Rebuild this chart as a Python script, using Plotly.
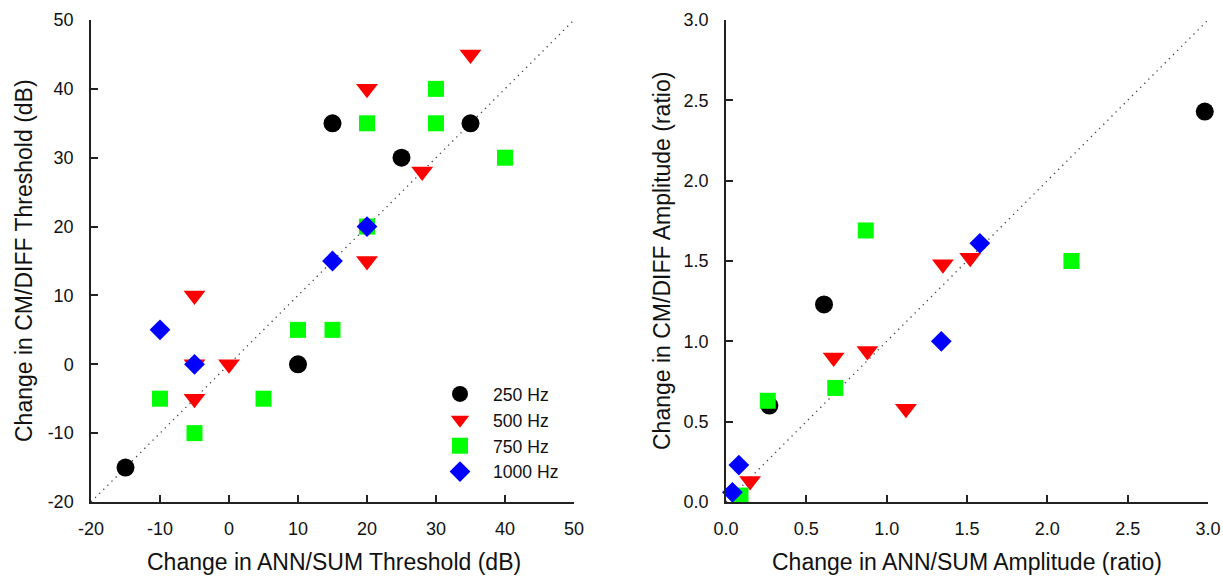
import plotly.graph_objects as go

# ---------------- data ----------------
series_names = ["250 Hz", "500 Hz", "750 Hz", "1000 Hz"]

# Left panel: thresholds (dB)
thr_250_x = [15, 35, 25, 10, -15]
thr_250_y = [35, 35, 30, 0, -15]
thr_500_x = [35, 20, 28, 20, -5, -5, 0, -5]
thr_500_y = [45, 40, 28, 15, 10, 0, 0, -5]
thr_750_x = [30, 20, 30, 40, 20, 10, 15, -10, 5, -5]
thr_750_y = [40, 35, 35, 30, 20, 5, 5, -5, -5, -10]
thr_1000_x = [20, 15, -10, -5]
thr_1000_y = [20, 15, 5, 0]

# Right panel: amplitudes (ratio)
amp_250_x = [2.98, 0.61, 0.27]
amp_250_y = [2.43, 1.23, 0.60]
amp_500_x = [1.35, 1.52, 0.67, 0.88, 1.12, 0.15]
amp_500_y = [1.48, 1.52, 0.90, 0.94, 0.58, 0.13]
amp_750_x = [0.87, 2.15, 0.68, 0.26, 0.09]
amp_750_y = [1.69, 1.50, 0.71, 0.63, 0.04]
amp_1000_x = [1.58, 1.34, 0.08, 0.04]
amp_1000_y = [1.61, 1.00, 0.23, 0.06]

thr_ticks = [-20, -10, 0, 10, 20, 30, 40, 50]
thr_ticktext = ["-20", "-10", "0", "10", "20", "30", "40", "50"]
amp_ticks = [0.0, 0.5, 1.0, 1.5, 2.0, 2.5, 3.0]
amp_ticktext = ["0.0", "0.5", "1.0", "1.5", "2.0", "2.5", "3.0"]
thr_identity = [-20, 50]
amp_identity = [0, 3]

# ---------------- styles ----------------
colors = ["#000000", "#FF0000", "#00FF00", "#0000FF"]
symbols = ["circle", "triangle-down", "square", "diamond"]
sizes = [18, 19, 16, 16]
FONT = "Arial, Liberation Sans, sans-serif"

fig = go.Figure()

# identity lines
for xa, ya, ident in [("x", "y", thr_identity), ("x2", "y2", amp_identity)]:
    fig.add_trace(go.Scatter(x=ident, y=ident, mode="lines",
                             line=dict(color="#444444", width=1.3, dash="1.3px,4.5px"),
                             showlegend=False, hoverinfo="skip", xaxis=xa, yaxis=ya))

left = [(thr_250_x, thr_250_y), (thr_500_x, thr_500_y), (thr_750_x, thr_750_y), (thr_1000_x, thr_1000_y)]
right = [(amp_250_x, amp_250_y), (amp_500_x, amp_500_y), (amp_750_x, amp_750_y), (amp_1000_x, amp_1000_y)]

for i, name in enumerate(series_names):
    fig.add_trace(go.Scatter(x=left[i][0], y=left[i][1], mode="markers", name=name,
                             legendgroup=name,
                             marker=dict(color=colors[i], symbol=symbols[i], size=sizes[i],
                                         line=dict(width=0)),
                             cliponaxis=False, xaxis="x", yaxis="y"))
for i, name in enumerate(series_names):
    fig.add_trace(go.Scatter(x=right[i][0], y=right[i][1], mode="markers", name=name,
                             legendgroup=name, showlegend=False,
                             marker=dict(color=colors[i], symbol=symbols[i], size=sizes[i],
                                         line=dict(width=0)),
                             cliponaxis=False, xaxis="x2", yaxis="y2"))

W, H = 1223, 577
def px_x(p):
    return p / W
def px_y(p):
    return 1 - p / H

axis_common = dict(showline=True, linecolor="#222222", linewidth=1.5, ticks="inside",
                   ticklen=7, tickwidth=1.5, tickcolor="#222222", showgrid=False,
                   zeroline=False, mirror=False, automargin=False,
                   tickfont=dict(family=FONT, size=18, color="#111111"))

XT_SIZE = 23
YT_SIZE = 23
fig.update_layout(
    template="none",
    width=W, height=H,
    margin=dict(l=0, r=0, t=0, b=0, pad=0, autoexpand=False),
    paper_bgcolor="white", plot_bgcolor="white",
    font=dict(family=FONT, size=18, color="#111111"),
    xaxis=dict(domain=[px_x(91), px_x(574)], range=[-20, 50], tickvals=thr_ticks,
               ticktext=thr_ticktext, anchor="y", ticklabelstandoff=10, **axis_common),
    yaxis=dict(domain=[px_y(502), px_y(20)], range=[-20, 50], tickvals=thr_ticks,
               ticktext=thr_ticktext, anchor="x", ticklabelstandoff=12, **axis_common),
    xaxis2=dict(domain=[px_x(726), px_x(1208)], range=[0, 3], tickvals=amp_ticks,
                ticktext=amp_ticktext, anchor="y2", ticklabelstandoff=10, **axis_common),
    yaxis2=dict(domain=[px_y(502), px_y(20)], range=[0, 3], tickvals=amp_ticks,
                ticktext=amp_ticktext, anchor="x2", ticklabelstandoff=12, **axis_common),
    showlegend=True,
    hovermode="closest",
    legend=dict(x=px_x(427), y=px_y(376), xanchor="left", yanchor="top",
                bgcolor="rgba(0,0,0,0)", borderwidth=0,
                font=dict(family=FONT, size=17.6, color="#111111"),
                tracegroupgap=0, itemwidth=56),
    annotations=[
        dict(text="Change in ANN/SUM Threshold (dB)", x=px_x(334), y=px_y(562),
             xref="paper", yref="paper", showarrow=False, xanchor="center", yanchor="middle",
             font=dict(family=FONT, size=XT_SIZE, color="#111111")),
        dict(text="Change in ANN/SUM Amplitude (ratio)", x=px_x(967), y=px_y(562),
             xref="paper", yref="paper", showarrow=False, xanchor="center", yanchor="middle",
             font=dict(family=FONT, size=XT_SIZE, color="#111111")),
        dict(text="Change in CM/DIFF Threshold (dB)", x=px_x(24), y=px_y(261), textangle=-90,
             xref="paper", yref="paper", showarrow=False, xanchor="center", yanchor="middle",
             font=dict(family=FONT, size=YT_SIZE, color="#111111")),
        dict(text="Change in CM/DIFF Amplitude (ratio)", x=px_x(662), y=px_y(261), textangle=-90,
             xref="paper", yref="paper", showarrow=False, xanchor="center", yanchor="middle",
             font=dict(family=FONT, size=YT_SIZE, color="#111111")),
    ],
)

fig.write_html("out.html")
